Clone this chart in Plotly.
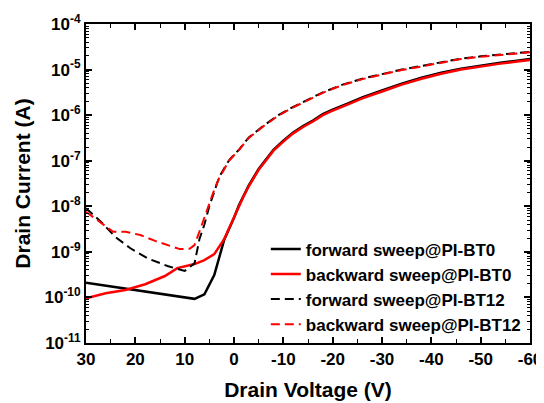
import plotly.graph_objects as go

# forward sweep @ PI-BT0
v_f0 = [30, 20, 10, 8, 6, 4, 2, 1, 0, -1, -2, -3, -4, -5, -6, -8, -10, -12, -14, -16, -18, -20,
        -23, -26, -30, -34, -38, -42, -46, -50, -54, -57, -60]
i_f0 = [2.09e-10, 1.45e-10, 1.0e-10, 9.3e-11, 1.17e-10, 3.09e-10, 1.82e-9, 3.16e-9, 5.62e-9,
        1.05e-8, 1.78e-8, 2.88e-8, 4.37e-8, 6.61e-8, 9.12e-8, 1.74e-7, 2.75e-7, 4.17e-7, 5.75e-7,
        7.59e-7, 1.05e-6, 1.32e-6, 1.78e-6, 2.45e-6, 3.47e-6, 4.90e-6, 6.61e-6, 8.51e-6, 1.05e-5,
        1.23e-5, 1.41e-5, 1.55e-5, 1.70e-5]

# backward sweep @ PI-BT0
v_b0 = [30, 26, 22, 18, 14, 11.5, 8, 6, 4, 2, 1, 0, -1, -2, -3, -4, -5, -6, -8, -10, -12, -14,
        -16, -18, -20, -23, -26, -30, -34, -38, -42, -46, -50, -54, -57, -60]
i_b0 = [9.6e-11, 1.23e-10, 1.45e-10, 1.95e-10, 2.95e-10, 4.4e-10, 5.4e-10, 6.6e-10, 8.9e-10,
        1.9e-9, 3.31e-9, 5.89e-9, 1.0e-8, 1.70e-8, 2.75e-8, 4.17e-8, 6.31e-8, 8.71e-8, 1.66e-7,
        2.63e-7, 3.98e-7, 5.50e-7, 7.24e-7, 1.0e-6, 1.26e-6, 1.70e-6, 2.34e-6, 3.31e-6, 4.68e-6,
        6.31e-6, 8.13e-6, 1.0e-5, 1.17e-5, 1.35e-5, 1.48e-5, 1.62e-5]

# forward sweep @ PI-BT12
v_f12 = [30, 27, 24, 21, 17.5, 13.5, 10, 8, 7, 6, 5, 4, 3, 2, 1, 0, -1, -2, -3, -6, -9, -12,
         -15, -18, -22, -26, -30, -34, -38, -42, -46, -50, -54, -57, -60]
i_f12 = [9.1e-9, 4.6e-9, 2.1e-9, 1.2e-9, 7.2e-10, 4.9e-10, 3.8e-10, 5.6e-10, 1.91e-9, 3.98e-9,
         1.0e-8, 2.09e-8, 4.37e-8, 6.76e-8, 1.02e-7, 1.35e-7, 1.74e-7, 2.40e-7, 3.24e-7, 5.89e-7,
         1.0e-6, 1.51e-6, 2.19e-6, 3.16e-6, 4.68e-6, 6.31e-6, 7.94e-6, 1.0e-5, 1.20e-5, 1.45e-5,
         1.74e-5, 1.95e-5, 2.14e-5, 2.29e-5, 2.45e-5]

# backward sweep @ PI-BT12
v_b12 = [30, 26.5, 24.5, 22, 19, 16, 13.5, 11, 9, 8, 7, 5.5, 4, 3, 2, 1, 0, -1, -2, -3, -6, -9,
         -12, -15, -18, -22, -26, -30, -34, -38, -42, -46, -50, -54, -57, -60]
i_b12 = [7.6e-9, 3.9e-9, 2.75e-9, 2.75e-9, 2.35e-9, 1.74e-9, 1.41e-9, 1.15e-9, 1.17e-9, 1.41e-9,
         2.8e-9, 8.3e-9, 2.3e-8, 4.17e-8, 6.61e-8, 1.0e-7, 1.32e-7, 1.70e-7, 2.34e-7, 3.16e-7,
         5.75e-7, 9.77e-7, 1.48e-6, 2.14e-6, 3.09e-6, 4.57e-6, 6.17e-6, 7.76e-6, 9.77e-6, 1.17e-5,
         1.41e-5, 1.70e-5, 1.91e-5, 2.09e-5, 2.24e-5, 2.40e-5]

names = ["forward sweep@PI-BT0", "backward sweep@PI-BT0",
         "forward sweep@PI-BT12", "backward sweep@PI-BT12"]

x_tickvals = [30, 20, 10, 0, -10, -20, -30, -40, -50, -60]
x_ticktext = ["30", "20", "10", "0", "-10", "-20", "-30", "-40", "-50", "-60"]
y_tickvals = [1e-11, 1e-10, 1e-9, 1e-8, 1e-7, 1e-6, 1e-5, 1e-4]
y_ticktext = ["10<sup>-11</sup>", "10<sup>-10</sup>", "10<sup>-9</sup>", "10<sup>-8</sup>",
              "10<sup>-7</sup>", "10<sup>-6</sup>", "10<sup>-5</sup>", "10<sup>-4</sup>"]

FONT = "Liberation Sans, Arial, sans-serif"
DASH = "9px,5px"

fig = go.Figure()
fig.add_trace(go.Scatter(x=v_f0, y=i_f0, mode="lines", name=names[0],
                         line=dict(color="black", width=2.5)))
fig.add_trace(go.Scatter(x=v_b0, y=i_b0, mode="lines", name=names[1],
                         line=dict(color="#ff0000", width=2.5)))
fig.add_trace(go.Scatter(x=v_f12, y=i_f12, mode="lines", name=names[2],
                         line=dict(color="black", width=2, dash=DASH)))
fig.add_trace(go.Scatter(x=v_b12, y=i_b12, mode="lines", name=names[3],
                         line=dict(color="#ff0000", width=2, dash=DASH)))

tickfont = dict(family=FONT, size=17, color="black", weight="bold")
titlefont = dict(family=FONT, size=21, color="black", weight="bold")
axis_common = dict(showline=True, linecolor="black", linewidth=2, mirror="ticks",
                   ticks="inside", tickcolor="black", tickwidth=1.5, showgrid=False,
                   zeroline=False, tickfont=tickfont, automargin=False)

fig.update_xaxes(range=[30, -60], tickmode="array", tickvals=x_tickvals, ticktext=x_ticktext,
                 ticklen=6, ticklabeloverflow="allow",
                 minor=dict(ticks="inside", dtick=5, tick0=0, ticklen=4, tickcolor="black", tickwidth=1, showgrid=False),
                 title=dict(text="Drain Voltage (V)", font=titlefont, standoff=14),
                 **axis_common)
fig.update_yaxes(type="log", range=[-11, -4], tickmode="array", tickvals=y_tickvals, ticktext=y_ticktext,
                 ticklen=6, ticklabeloverflow="allow",
                 minor=dict(ticks="inside", dtick="D1", ticklen=3, tickcolor="black", tickwidth=1, showgrid=False),
                 title=dict(text="Drain Current (A)", font=titlefont, standoff=8),
                 **axis_common)

# page body adds an 8px offset, so the figure is placed at (8, 8)
fig.update_layout(
    width=536, height=395,
    margin=dict(l=78, r=14, t=16, b=60),
    paper_bgcolor="white", plot_bgcolor="white",
    font=dict(family=FONT, color="black"),
    legend=dict(x=0.405, y=0.35, xanchor="left", yanchor="top",
                bgcolor="rgba(0,0,0,0)", borderwidth=0,
                font=dict(family=FONT, size=17, color="black", weight="bold"),
                tracegroupgap=0, itemwidth=30),
    showlegend=True,
)

fig.write_html("out.html")
